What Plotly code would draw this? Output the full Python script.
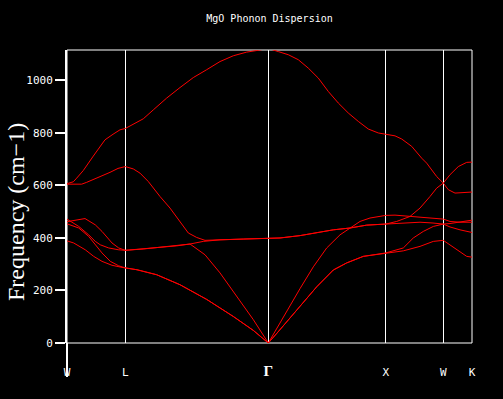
import plotly.graph_objects as go

# High-symmetry points (path length, arbitrary units) and labels
sym_k = [0.0, 0.583, 2.013, 3.187, 3.763, 4.05]
sym_labels = ["W", "L", "<b><span style='font-family:Liberation Serif;font-size:15px'>Γ</span></b>", "X", "W", "K"]

y_ticks = [0, 200, 400, 600, 800, 1000]

# Phonon branches: (k, frequency in cm-1)
band1_k = [0, 0.067, 0.183, 0.267, 0.350, 0.450, 0.550, 0.583,
           0.700, 0.897, 1.130, 1.397, 1.663, 1.863, 2.013,
           2.110, 2.230, 2.330, 2.497, 2.663, 2.797, 2.963, 3.187,
           3.363, 3.530, 3.663, 3.763,
           3.830, 3.930, 3.997, 4.05]
band1_f = [389, 381, 355, 330, 311, 296, 288, 286,
           279, 260, 222, 166, 101, 48, 0,
           42, 95, 137, 214, 278, 305, 330, 343,
           351, 368, 387, 391,
           374, 349, 330, 327]

band2_k = [0, 0.117, 0.217, 0.283, 0.350, 0.433, 0.517, 0.583,
           0.700, 0.897, 1.130, 1.397, 1.663, 1.863, 2.013,
           2.110, 2.230, 2.330, 2.497, 2.663, 2.797, 2.963, 3.187,
           3.363, 3.463, 3.563, 3.663, 3.763,
           3.830, 3.930, 4.05]
band2_f = [454, 438, 406, 374, 343, 311, 294, 286,
           279, 260, 222, 166, 101, 48, 0,
           42, 95, 137, 214, 278, 305, 330, 343,
           362, 400, 425, 444, 453,
           442, 431, 421]

band3_k = [0, 0.117, 0.217, 0.283, 0.333, 0.417, 0.517, 0.583,
           0.763, 0.930, 1.097, 1.230, 1.363, 1.530, 1.763, 2.013,
           2.130, 2.330, 2.663, 2.830, 2.997, 3.187,
           3.360, 3.530, 3.660, 3.763,
           3.830, 3.930, 4.05]
band3_f = [472, 444, 412, 387, 374, 362, 355, 353,
           358, 365, 370, 377, 387, 393, 396, 397,
           400, 409, 431, 438, 449, 453,
           457, 460, 457, 453,
           455, 462, 468]

band4_k = [0, 0.080, 0.180, 0.283, 0.350, 0.450, 0.517, 0.583,
           0.763, 0.930, 1.097, 1.230, 1.380, 1.530, 1.697, 1.863, 2.013,
           2.130, 2.230, 2.330, 2.463, 2.597, 2.730, 2.830, 2.930, 3.030, 3.187,
           3.280, 3.430, 3.580, 3.763,
           3.830, 3.930, 4.05]
band4_f = [462, 468, 474, 450, 425, 381, 362, 353,
           358, 365, 370, 377, 336, 267, 178, 89, 0,
           77, 143, 207, 290, 362, 412, 438, 463, 476, 486,
           487, 483, 477, 472,
           463, 460, 460]

band5_k = [0, 0.147, 0.197, 0.263, 0.330, 0.430, 0.510, 0.583,
           0.663, 0.730, 0.813, 0.930, 1.030, 1.113, 1.213, 1.297, 1.380, 1.530, 1.763, 2.013,
           2.130, 2.330, 2.663, 2.830, 2.997, 3.187,
           3.297, 3.430, 3.530, 3.630, 3.697, 3.763,
           3.813, 3.880, 4.05]
band5_f = [605, 605, 612, 622, 632, 650, 665, 672,
           663, 647, 615, 558, 514, 470, 419, 402, 391, 393, 396, 397,
           400, 409, 431, 438, 449, 453,
           463, 482, 514, 558, 590, 609,
           584, 571, 575]

band6_k = [0, 0.063, 0.097, 0.130, 0.163, 0.263, 0.380, 0.460, 0.530, 0.583,
           0.663, 0.763, 0.863, 0.997, 1.130, 1.263, 1.397, 1.530, 1.663, 1.797, 1.897, 2.013,
           2.113, 2.213, 2.313, 2.413, 2.513, 2.613, 2.713, 2.813, 2.913, 3.013, 3.113, 3.187,
           3.280, 3.347, 3.447, 3.547, 3.597, 3.697, 3.763,
           3.830, 3.913, 3.997, 4.05]
band6_f = [607, 614, 628, 641, 657, 712, 774, 795, 812, 817,
           834, 854, 888, 933, 973, 1011, 1041, 1072, 1094, 1108, 1114, 1122,
           1110, 1098, 1079, 1047, 1009, 958, 914, 876, 844, 815, 800, 796,
           789, 777, 749, 704, 685, 634, 609,
           641, 672, 688, 689]

bands = [(band1_k, band1_f), (band2_k, band2_f), (band3_k, band3_f),
         (band4_k, band4_f), (band5_k, band5_f), (band6_k, band6_f)]

fig = go.Figure()
for k, f in bands:
    fig.add_trace(go.Scatter(x=k, y=f, mode="lines",
                             line=dict(color="#ff0000", width=1),
                             showlegend=False, hoverinfo="skip"))

mono = "DejaVu Sans Mono"
fig.update_layout(
    width=503, height=399,
    margin=dict(l=67, r=31, t=50, b=56),
    paper_bgcolor="black", plot_bgcolor="black",
    title=dict(text="MgO Phonon Dispersion", x=0.5, xref="paper",
               y=1 - 18 / 399, yref="container", yanchor="middle",
               font=dict(family=mono, size=10, color="white")),
    xaxis=dict(range=[0, 4.05], tickvals=sym_k, ticktext=sym_labels,
               showgrid=True, gridcolor="white", gridwidth=1,
               zeroline=False, showline=False, ticks="",
               ticklabelstandoff=21,
               tickfont=dict(family=mono, size=11, color="white")),
    yaxis=dict(range=[0, 1116], tickvals=y_ticks,
               ticks="outside", ticklen=10, tickwidth=2, tickcolor="white",
               showline=True, linecolor="white", linewidth=2,
               showgrid=False, zeroline=False,
               tickfont=dict(family=mono, size=11, color="white")),
    shapes=[
        dict(type="rect", xref="paper", yref="paper", x0=0, y0=0, x1=1, y1=1,
             line=dict(color="white", width=1), layer="below"),
        dict(type="line", xref="paper", yref="paper", x0=0, x1=0,
             y0=0, y1=-34 / 293, line=dict(color="white", width=2)),
    ],
    annotations=[
        dict(text="Frequency (cm−1)", xref="paper", yref="paper",
             x=(16 - 67) / 405, y=(343 - 212) / 293, xanchor="center",
             yanchor="middle", textangle=-90, showarrow=False,
             font=dict(family="Liberation Serif", size=24, color="white")),
    ],
)

fig.write_html("out.html",
               config={"displayModeBar": False},
               post_script="document.body.style.margin='0';"
                           "document.body.style.background='black';")
